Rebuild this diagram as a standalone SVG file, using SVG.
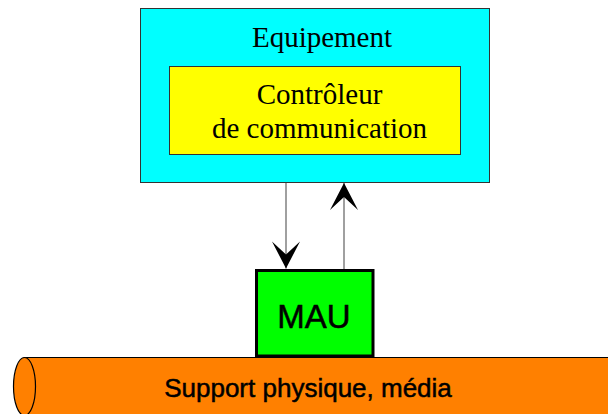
<svg xmlns="http://www.w3.org/2000/svg" width="608" height="414" viewBox="0 0 608 414">
<style>
.serif{font-family:"Liberation Serif","Times New Roman",serif;font-size:29px;fill:#000;text-anchor:middle}
.sans{font-family:"Liberation Sans",Arial,sans-serif;fill:#000;stroke:#000;stroke-width:0.5;text-anchor:middle}
.conn{stroke:#808080;stroke-width:1.5;fill:none}
</style>
<defs>
<marker id="arrow" markerUnits="userSpaceOnUse" markerWidth="30" markerHeight="30" viewBox="-28 -15 30 30" refX="0" refY="0" orient="auto">
<path d="M0,0 L-27,-14 L-14,0 L-27,14 Z" fill="#000"/>
</marker>
</defs>
<rect width="608" height="414" fill="#fff"/>
<g id="support">
<rect x="24" y="357.5" width="600" height="70" fill="#ff8000" stroke="#000" stroke-width="1"/>
<ellipse cx="24.5" cy="386.5" rx="11" ry="29" fill="#ff8000" stroke="#000" stroke-width="1.2"/>
<text class="sans" x="308" y="396.5" font-size="26">Support physique, média</text>
</g>
<g id="equipement">
<rect x="140.5" y="8.5" width="349" height="174" fill="#00ffff" stroke="#333" stroke-width="1"/>
<text class="serif" x="322" y="47">Equipement</text>
</g>
<g id="controleur">
<rect x="169.5" y="66.5" width="291" height="88" fill="#ffff00" stroke="#333" stroke-width="1"/>
<text class="serif" x="319.5" y="104">Contrôleur</text>
<text class="serif" x="319.5" y="138">de communication</text>
</g>
<g id="mau">
<rect x="256.5" y="270.5" width="116.5" height="85.5" fill="#00ff00" stroke="#000" stroke-width="3"/>
<text class="sans" x="314" y="327.7" font-size="33">MAU</text>
</g>
<g id="connectors">
<line class="conn" x1="286" y1="183" x2="286" y2="268.5" marker-end="url(#arrow)"/>
<line class="conn" x1="344" y1="269" x2="344" y2="183" marker-end="url(#arrow)"/>
</g>
</svg>
